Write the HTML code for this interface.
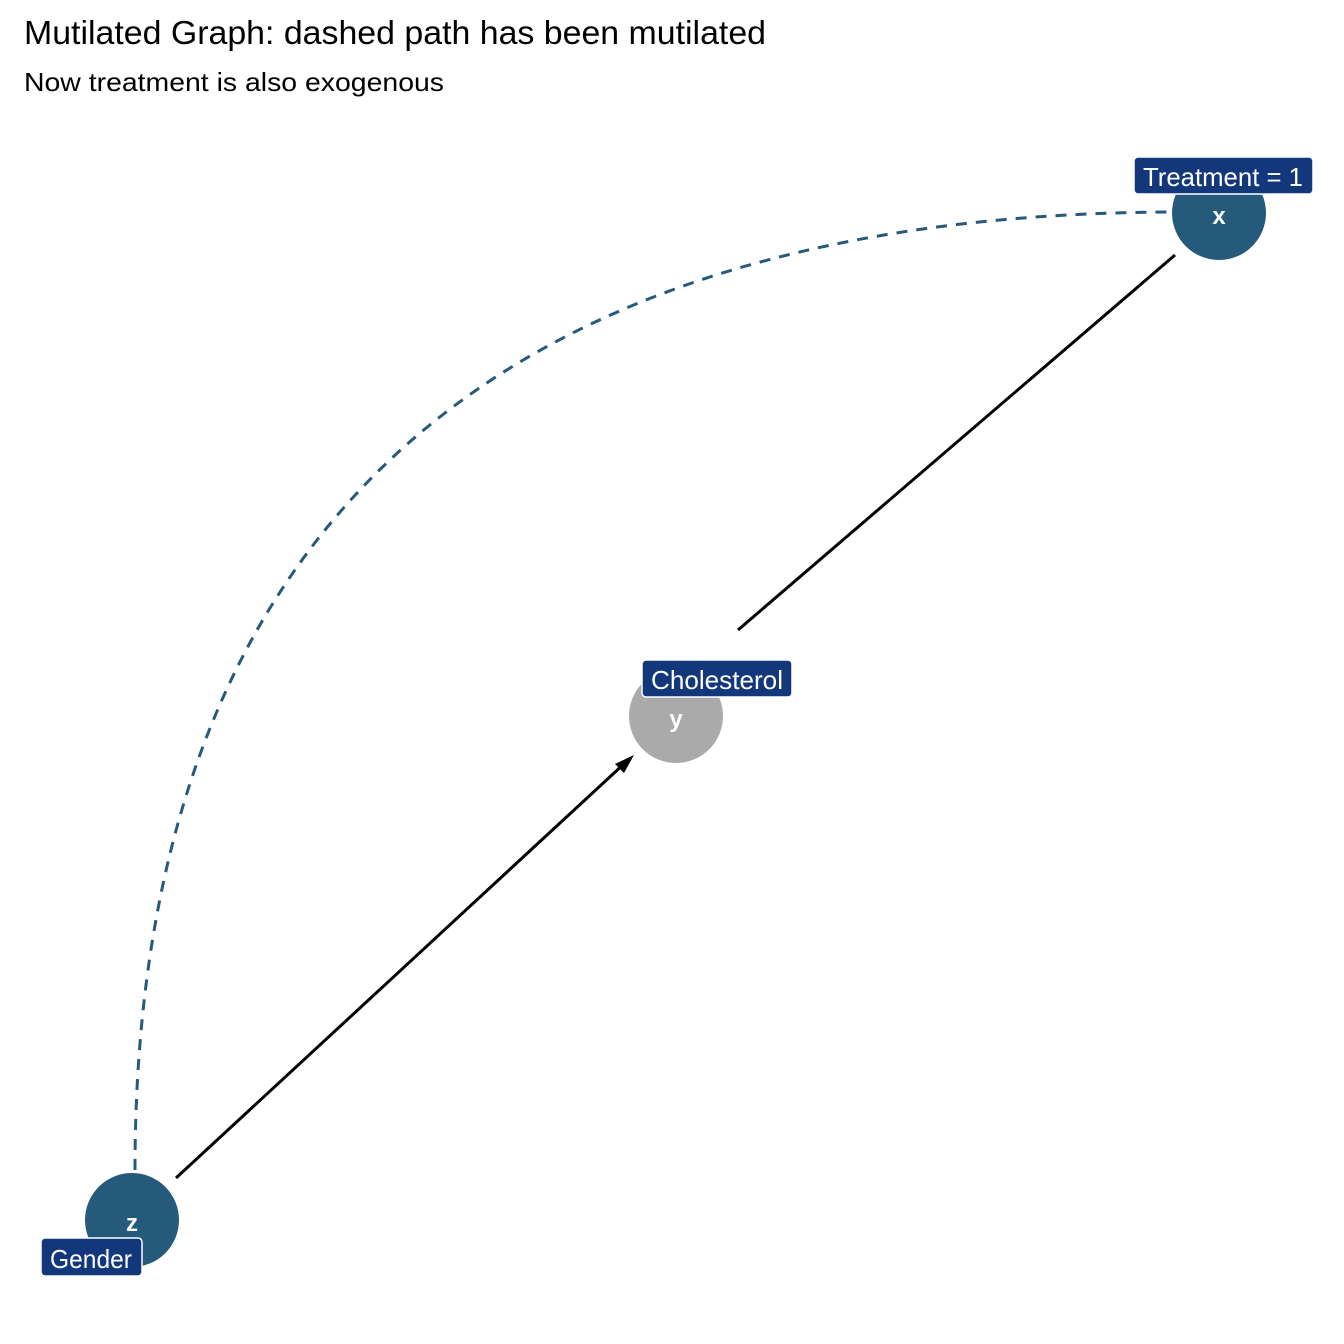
<!DOCTYPE html>
<html><head><style>body{margin:0;background:#fff}svg{display:block}</style></head><body>
<svg width="1344" height="1344" xmlns="http://www.w3.org/2000/svg" font-family="Liberation Sans, sans-serif">
<rect width="1344" height="1344" fill="#fff"/>
<text x="24" y="44" font-size="33" fill="#000" textLength="742" lengthAdjust="spacingAndGlyphs">Mutilated Graph: dashed path has been mutilated</text>
<text x="24" y="91" font-size="26" fill="#000" textLength="420" lengthAdjust="spacingAndGlyphs">Now treatment is also exogenous</text>
<path d="M135,1170 C135,482 547,212 1180,212" fill="none" stroke="#255a7b" stroke-width="3" stroke-dasharray="11,9"/>
<line x1="1175" y1="255" x2="738" y2="630" stroke="#000" stroke-width="3"/>
<line x1="176" y1="1178" x2="626" y2="762" stroke="#000" stroke-width="3"/>
<polygon points="634,755 615,764 624,773" fill="#000"/>
<circle cx="1219" cy="213" r="47" fill="#255a7b"/>
<circle cx="676" cy="716" r="47" fill="#aaaaaa"/>
<circle cx="132" cy="1220" r="47" fill="#255a7b"/>
<text x="1219" y="224" font-size="24" font-weight="bold" fill="#fff" text-anchor="middle">x</text>
<text x="676" y="727" font-size="24" font-weight="bold" fill="#fff" text-anchor="middle">y</text>
<text x="132" y="1231" font-size="24" font-weight="bold" fill="#fff" text-anchor="middle">z</text>
<rect x="1134" y="157" width="179" height="37" rx="4" fill="#12377a" stroke="#fff" stroke-width="1.5"/>
<text x="1223" y="186" font-size="26" fill="#fff" text-anchor="middle" textLength="160" lengthAdjust="spacingAndGlyphs">Treatment = 1</text>
<rect x="642" y="660" width="150" height="37" rx="4" fill="#12377a" stroke="#fff" stroke-width="1.5"/>
<text x="717" y="689" font-size="26" fill="#fff" text-anchor="middle" textLength="132" lengthAdjust="spacingAndGlyphs">Cholesterol</text>
<rect x="41" y="1238" width="101" height="38" rx="4" fill="#12377a" stroke="#fff" stroke-width="1.5"/>
<text x="91" y="1268" font-size="26" fill="#fff" text-anchor="middle" textLength="82" lengthAdjust="spacingAndGlyphs">Gender</text>
</svg>
</body></html>
